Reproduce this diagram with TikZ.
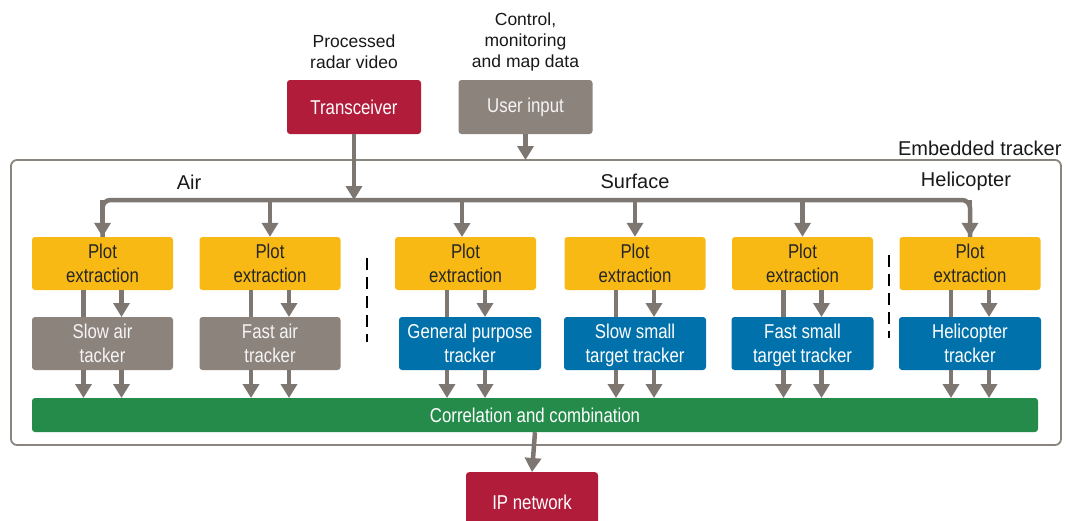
\documentclass[tikz,border=0pt]{standalone}
\usepackage{fontspec}
\setmainfont{Liberation Sans}
\newfontfamily\narrowfont[FakeStretch=0.84]{Liberation Sans}
\usetikzlibrary{arrows.meta}
\definecolor{cred}{HTML}{B11C3B}
\definecolor{cgray}{HTML}{8C837C}
\definecolor{cyel}{HTML}{F9B914}
\definecolor{cblue}{HTML}{0071AB}
\definecolor{cgreen}{HTML}{258B4A}
\definecolor{cline}{HTML}{7E7670}
\definecolor{cframe}{HTML}{8A857F}
\newcommand\mystrut{\rule[-5.5pt]{0pt}{24pt}}
\newcommand\twoln[2]{\mystrut#1\\\mystrut#2}
\tikzset{
  box/.style={rounded corners=3pt, inner sep=0pt, align=center,
    font=\narrowfont\fontsize{20}{24}\selectfont},
  plotbox/.style={box, fill=cyel, text=black!85, minimum width=141pt, minimum height=53pt},
  trkgray/.style={box, fill=cgray, text=white!92!cgray, minimum width=141pt, minimum height=53pt},
  trkblue/.style={box, fill=cblue, text=white, minimum width=142pt, minimum height=53pt},
  topbox/.style={box, minimum width=134pt, minimum height=54pt, text=white},
  lbl/.style={align=center, font=\fontsize{17.5}{21}\selectfont, text=black!90},
  glbl/.style={font=\fontsize{20}{24}\selectfont, text=black!90},
  conn/.style={draw=cline, line width=4.5pt},
  arr/.style={conn, -{Triangle[width=16pt,length=14pt]}},
  sep/.style={draw=black, line width=2.2pt, dash pattern=on 12pt off 7pt}
}
\begin{document}
\begin{tikzpicture}[x=1pt,y=-1pt]
\useasboundingbox[fill=white] (0,0) rectangle (1066,520);
% container
\draw[cframe, line width=1.8pt, rounded corners=6pt] (11,160) rectangle (1061,445);
\node[glbl, anchor=east] (emb) at (1065,148) {Embedded tracker};
% top boxes
\node[topbox, fill=cred] (trx) at (354,107) {Transceiver};
\node[topbox, fill=cgray, text=white!92!cgray] (usr) at (525.5,107) {User input};
\node[lbl] (trxl) at (354,52) {Processed\\radar video};
\node[lbl] (usrl) at (525.5,42) {Control,\\monitoring\\and map data};
% group labels
\node[glbl] (air) at (189,182) {Air};
\node[glbl] (surf) at (635,181) {Surface};
\node[glbl] (heli) at (966,181) {Helicopter};
% plot extraction
\node[plotbox] (p1) at (102.5,263.5) {\twoln{Plot}{extraction}};
\node[plotbox] (p2) at (270,263.5) {\twoln{Plot}{extraction}};
\node[plotbox] (p3) at (465.5,263.5) {\twoln{Plot}{extraction}};
\node[plotbox] (p4) at (635,263.5) {\twoln{Plot}{extraction}};
\node[plotbox] (p5) at (802.5,263.5) {\twoln{Plot}{extraction}};
\node[plotbox] (p6) at (970,263.5) {\twoln{Plot}{extraction}};
% trackers
\node[trkgray] (t1) at (102.5,343.5) {\twoln{Slow air}{tacker}};
\node[trkgray] (t2) at (270,343.5) {\twoln{Fast air}{tracker}};
\node[trkblue] (t3) at (470,343.5) {\twoln{General purpose}{tracker}};
\node[trkblue] (t4) at (635,343.5) {\twoln{Slow small}{target tracker}};
\node[trkblue] (t5) at (802.5,343.5) {\twoln{Fast small}{target tracker}};
\node[trkblue] (t6) at (970,343.5) {\twoln{Helicopter}{tracker}};
% green bar
\node[box, fill=cgreen, text=white, minimum width=1006pt, minimum height=34pt] (cc) at (535,415) {Correlation and combination};
% IP network
\node[box, fill=cred, text=white, minimum width=132pt, minimum height=60pt, anchor=north] (ip) at (532,472) {IP network};
% bus
\coordinate (b1) at (102.5,200);
\coordinate (b6) at (970,200);
\draw[conn, rounded corners=8pt] (p1.north) -- (b1) -- (b6) -- (p6.north);
\draw[arr] (b1) -- (p1.north);
\draw[arr] (b6) -- (p6.north);
\draw[arr] (270,200) -- (p2.north);
\draw[arr] (462,200) -- (462,237);
\draw[arr] (635,200) -- (p4.north);
\draw[arr] (802.5,200) -- (p5.north);
\draw[arr] (trx.south) -- (354,200);
\draw[arr] (usr.south) -- (525.5,160);
% plot -> tracker
\foreach \i/\c in {1/102.5,2/270,3/466,4/635,5/802.5,6/970}{
  \draw[conn] (\c-19,290) -- (\c-19,317);
  \draw[arr] (\c+19,290) -- (\c+19,317);
  \draw[arr] (\c-19,370) -- (\c-19,398);
  \draw[arr] (\c+19,370) -- (\c+19,398);
}
\draw[arr] (cc.south) -- (ip.north);
% separators
\draw[sep] (367,258) -- (367,342);
\draw[sep] (889,255) -- (889,338);
\end{tikzpicture}
\end{document}
